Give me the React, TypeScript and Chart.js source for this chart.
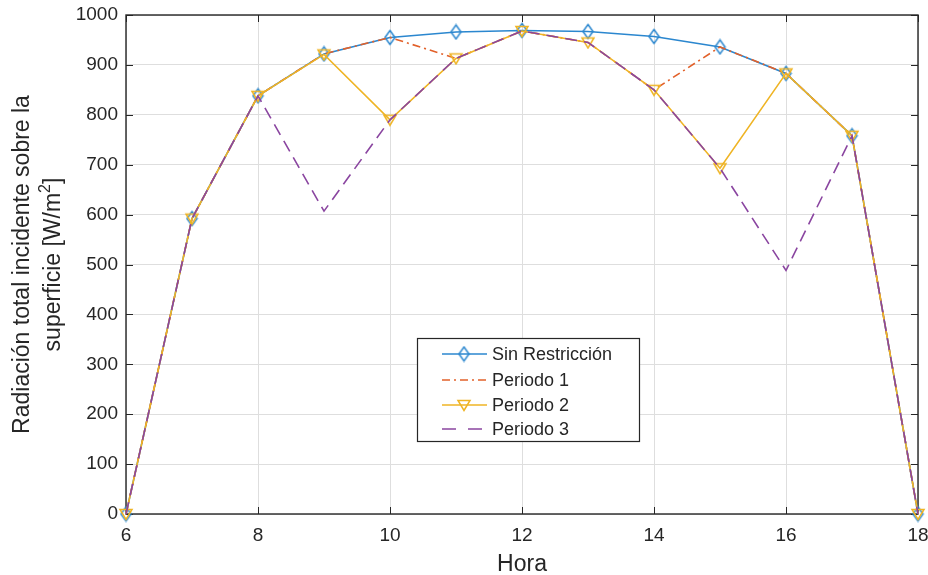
import React, { useEffect, useRef } from 'react';
import { Chart, registerables } from 'chart.js';
Chart.register(...registerables);

const hours = [6, 7, 8, 9, 10, 11, 12, 13, 14, 15, 16, 17, 18];
const sinRestriccion = [0, 592, 838, 922, 955, 966, 969, 967, 957, 936, 883, 758, 0];
const periodo1 = [0, 592, 838, 922, 955, 913, 968, 945, 850, 936, 883, 758, 0];
const periodo2 = [0, 592, 838, 921, 790, 913, 968, 945, 850, 693, 883, 758, 0];
const periodo3 = [0, 592, 838, 607, 790, 913, 968, 945, 850, 693, 488, 758, 0];
const seriesNames = ['Sin Restricción', 'Periodo 1', 'Periodo 2', 'Periodo 3'];
const xTicks = [6, 8, 10, 12, 14, 16, 18];
const yTicks = [0, 100, 200, 300, 400, 500, 600, 700, 800, 900, 1000];
const yTitle1 = 'Radiación total incidente sobre la';
const yTitle2a = 'superficie [W/m';
const yTitle2sup = '2';
const yTitle2b = ']';
const xTitle = 'Hora';

const BLUE = '#2b87cf';
const ORANGE = '#e2612a';
const YELLOW = '#efb424';
const PURPLE = '#8a45a0';
const TEXT = '#262626';
const FONT = '"Liberation Sans", Arial, sans-serif';

function makeDiamond(color: string) {
  const c = document.createElement('canvas');
  c.width = 13; c.height = 17;
  const g = c.getContext('2d')!;
  g.strokeStyle = color; g.lineWidth = 1.5;
  g.beginPath();
  g.moveTo(6.5, 1.5); g.lineTo(11.5, 8.5); g.lineTo(6.5, 15.5); g.lineTo(1.5, 8.5); g.closePath();
  g.stroke();
  return c;
}
function makeTriDown(color: string) {
  const c = document.createElement('canvas');
  c.width = 16; c.height = 14;
  const g = c.getContext('2d')!;
  g.strokeStyle = color; g.lineWidth = 1.5;
  g.beginPath();
  g.moveTo(2, 2.5); g.lineTo(14, 2.5); g.lineTo(8, 12.5); g.closePath();
  g.stroke();
  return c;
}

export default function App() {
  const ref = useRef<HTMLCanvasElement>(null);
  useEffect(() => {
    const diamond = makeDiamond(BLUE);
    const tri = makeTriDown(YELLOW);
    const pts = (vals: number[]) => hours.map((h, i) => ({ x: h, y: vals[i] }));

    const box = {
      id: 'box',
      beforeDatasetsDraw(chart: any) {
        const ctx = chart.ctx as CanvasRenderingContext2D;
        const a = chart.chartArea;
        const xs = chart.scales.x, ys = chart.scales.y;
        ctx.save();
        ctx.strokeStyle = TEXT; ctx.lineWidth = 1.4;
        ctx.strokeRect(a.left, a.top, a.right - a.left, a.bottom - a.top);
        ctx.beginPath();
        xTicks.forEach(v => {
          const px = Math.round(xs.getPixelForValue(v)) + 0.5;
          ctx.moveTo(px, a.bottom); ctx.lineTo(px, a.bottom - 7);
          ctx.moveTo(px, a.top); ctx.lineTo(px, a.top + 7);
        });
        yTicks.forEach(v => {
          const py = Math.round(ys.getPixelForValue(v)) + 0.5;
          ctx.moveTo(a.left, py); ctx.lineTo(a.left + 7, py);
          ctx.moveTo(a.right, py); ctx.lineTo(a.right - 7, py);
        });
        ctx.lineWidth = 1; ctx.stroke();
        ctx.restore();
      },
    };

    const decor = {
      id: 'decor',
      afterDraw(chart: any) {
        const ctx = chart.ctx as CanvasRenderingContext2D;
        const a = chart.chartArea;
        ctx.save();
        // titles
        ctx.fillStyle = TEXT;
        ctx.font = `23px ${FONT}`;
        ctx.textAlign = 'center'; ctx.textBaseline = 'alphabetic';
        ctx.fillText(xTitle, (a.left + a.right) / 2, 571);
        const cy = (a.top + a.bottom) / 2;
        ctx.save();
        ctx.translate(29, cy); ctx.rotate(-Math.PI / 2);
        ctx.fillText(yTitle1, 0, 0);
        ctx.restore();
        ctx.save();
        ctx.translate(60, cy); ctx.rotate(-Math.PI / 2);
        ctx.textAlign = 'left';
        ctx.font = `23px ${FONT}`;
        const w1 = ctx.measureText(yTitle2a).width;
        ctx.font = `16px ${FONT}`;
        const w2 = ctx.measureText(yTitle2sup).width;
        ctx.font = `23px ${FONT}`;
        const w3 = ctx.measureText(yTitle2b).width;
        let sx = -(w1 + w2 + w3) / 2;
        ctx.fillText(yTitle2a, sx, 0); sx += w1;
        ctx.font = `16px ${FONT}`;
        ctx.fillText(yTitle2sup, sx, -10); sx += w2;
        ctx.font = `23px ${FONT}`;
        ctx.fillText(yTitle2b, sx, 0);
        ctx.restore();

        // legend
        const bx = 417.5, by = 338.5, bw = 222, bh = 103;
        ctx.fillStyle = '#ffffff';
        ctx.fillRect(bx, by, bw, bh);
        ctx.strokeStyle = TEXT; ctx.lineWidth = 1.2;
        ctx.strokeRect(bx, by, bw, bh);
        const rows = [354, 380, 405, 429];
        const colors = [BLUE, ORANGE, YELLOW, PURPLE];
        const dashes = [[], [8, 4, 2, 4], [], [14, 12]];
        rows.forEach((ry, i) => {
          ctx.strokeStyle = colors[i]; ctx.lineWidth = 1.6;
          ctx.setLineDash(dashes[i]);
          ctx.beginPath(); ctx.moveTo(442, ry); ctx.lineTo(487, ry); ctx.stroke();
          ctx.setLineDash([]);
          if (i === 0) ctx.drawImage(diamond, 464 - diamond.width / 2, ry - diamond.height / 2);
          if (i === 2) ctx.drawImage(tri, 464 - tri.width / 2, ry - tri.height / 2);
          ctx.fillStyle = TEXT;
          ctx.font = `18px ${FONT}`;
          ctx.textAlign = 'left'; ctx.textBaseline = 'middle';
          ctx.fillText(seriesNames[i], 492, ry + 1);
        });
        ctx.restore();
      },
    };

    const chart = new Chart(ref.current!, {
      type: 'line',
      data: {
        datasets: [
          { label: seriesNames[0], data: pts(sinRestriccion), borderColor: BLUE, borderWidth: 1.6, pointStyle: diamond as any, pointRadius: 6, order: 4, clip: false as any },
          { label: seriesNames[1], data: pts(periodo1), borderColor: ORANGE, borderWidth: 1.6, borderDash: [8, 4, 2, 4], pointRadius: 0, order: 3, clip: false as any },
          { label: seriesNames[2], data: pts(periodo2), borderColor: YELLOW, borderWidth: 1.6, pointStyle: tri as any, pointRadius: 6, order: 2, clip: false as any },
          { label: seriesNames[3], data: pts(periodo3), borderColor: PURPLE, borderWidth: 1.6, borderDash: [12, 7], pointRadius: 0, order: 1, clip: false as any },
        ],
      },
      options: {
        responsive: false,
        animation: false,
        layout: { padding: { top: 15, right: 10, left: 0, bottom: 0 } },
        plugins: { legend: { display: false }, tooltip: { enabled: false } },
        elements: { line: { tension: 0, fill: false }, point: { hoverRadius: 6 } },
        scales: {
          x: {
            type: 'linear', min: 6, max: 18,
            afterFit: (s: any) => { s.height = 61; s.paddingLeft = 0; s.paddingRight = 0; },
            afterBuildTicks: (s: any) => { s.ticks = xTicks.map(v => ({ value: v })); },
            ticks: { color: TEXT, font: { family: FONT, size: 19 }, padding: 10, maxRotation: 0, callback: (v: any) => String(v) },
            grid: { color: '#dedede', drawTicks: false },
            border: { display: false },
          },
          y: {
            type: 'linear', min: 0, max: 1000,
            afterFit: (s: any) => { s.width = 126; s.paddingTop = 0; s.paddingBottom = 0; },
            afterBuildTicks: (s: any) => { s.ticks = yTicks.map(v => ({ value: v })); },
            ticks: { color: TEXT, font: { family: FONT, size: 19 }, padding: 8, callback: (v: any) => String(v) },
            grid: { color: '#dedede', drawTicks: false },
            border: { display: false },
          },
        },
      },
      plugins: [box, decor],
    });
    return () => chart.destroy();
  }, []);
  return (
    <div style={{ position: 'absolute', left: 0, top: 0, width: 928, height: 575 }}>
      <canvas ref={ref} width={928} height={575} />
    </div>
  );
}
